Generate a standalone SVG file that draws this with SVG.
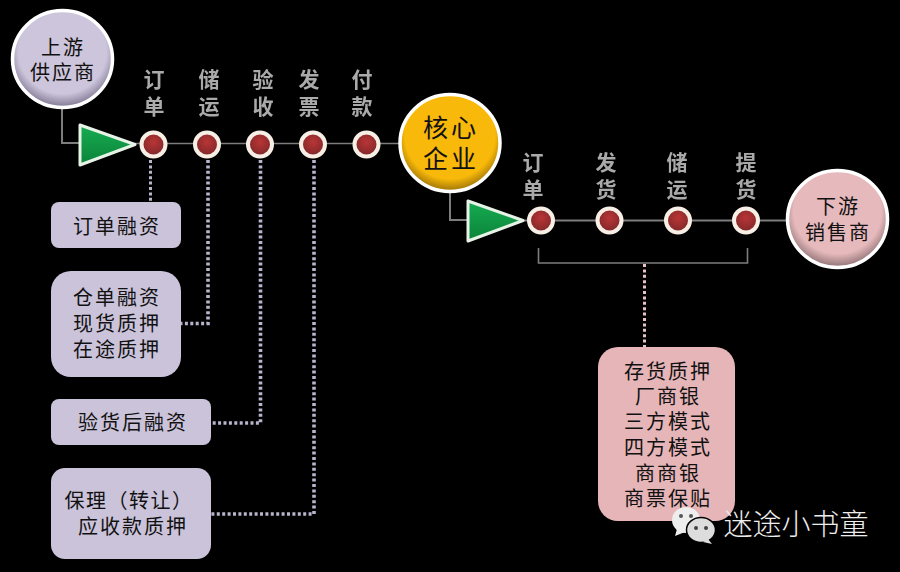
<svg xmlns="http://www.w3.org/2000/svg" width="900" height="572" viewBox="0 0 900 572">
<style>
text{font-family:"Noto Sans CJK SC","Noto Sans",sans-serif;text-anchor:middle}
.t{font-size:20px;letter-spacing:2px;fill:#111}
.c{font-size:25px;letter-spacing:3px}
.l{font-size:21px;font-weight:700;fill:#aaa;filter:url(#soft)}
.line{fill:none;stroke:#7d7d7d;stroke-width:1.6}
.thick{stroke-width:2}
.dot{fill:none;stroke:#b9b3cc;stroke-width:3.600;stroke-dasharray:3 2.400}
.big{stroke:#fff;stroke-width:3.500}
.tri{fill:url(#g);stroke:#e6f3e6;stroke-width:3;stroke-linejoin:round}
.n{fill:url(#r);stroke:#f7efe6;stroke-width:4}
.lil{fill:#cbc3da}
</style>
<defs>
<filter id="soft" x="-10%" y="-10%" width="120%" height="120%"><feGaussianBlur stdDeviation="0.4"/></filter>
<radialGradient id="p" cx="50%" cy="42%" r="55%"><stop offset="80%" stop-color="#cdc5db"/><stop offset="100%" stop-color="#8f87a0"/></radialGradient>
<radialGradient id="y" cx="50%" cy="42%" r="55%"><stop offset="82%" stop-color="#f8b90a"/><stop offset="100%" stop-color="#b08208"/></radialGradient>
<radialGradient id="k" cx="50%" cy="42%" r="55%"><stop offset="80%" stop-color="#e6b9bc"/><stop offset="100%" stop-color="#a08083"/></radialGradient>
<radialGradient id="r" cx="50%" cy="40%" r="55%"><stop offset="0%" stop-color="#b93536"/><stop offset="100%" stop-color="#82282a"/></radialGradient>
<linearGradient id="g" x1="0" y1="0" x2="0" y2="1"><stop offset="0%" stop-color="#16ac52"/><stop offset="100%" stop-color="#0b8339"/></linearGradient>
</defs>
<rect width="900" height="572" fill="#000"/>
<g id="connectors">
<path class="line thick" d="M62 108V143H80"/>
<path class="line" d="M135 143.500H400"/>
<path class="line thick" d="M450 192V220H468"/>
<path class="line thick" d="M524 220.500H790"/>
<path class="line" d="M538.500 248V263H747.500V248"/>
<path class="dot" style="stroke-width:3" d="M150.500 160V202"/>
<path class="dot" d="M208 160V323.500H181"/>
<path class="dot" d="M260.500 160V423H211"/>
<path class="dot" d="M314 160V514H211"/>
<path class="dot" style="stroke:#e6c4c6;stroke-width:3" d="M644.500 264V347"/>
</g>
<g id="supplier"><ellipse class="big" cx="62.500" cy="59" rx="50" ry="48.500" fill="url(#p)"/><text class="t"><tspan x="63" y="55">上游</tspan><tspan x="63" y="80">供应商</tspan></text></g>
<g id="core"><ellipse class="big" cx="450" cy="143" rx="50" ry="48.500" fill="url(#y)"/><text class="t c"><tspan x="451" y="137">核心</tspan><tspan x="451" y="168">企业</tspan></text></g>
<g id="distributor"><ellipse class="big" cx="837.500" cy="219" rx="50" ry="48.500" fill="url(#k)"/><text class="t"><tspan x="838" y="214">下游</tspan><tspan x="838" y="240">销售商</tspan></text></g>
<g id="arrow1"><polygon class="tri" points="80,125 80,165 135,144.500"/></g>
<g id="arrow2"><polygon class="tri" points="468,201 468,241 523,220.500"/></g>
<g id="upstream-steps">
<circle class="n" cx="153.500" cy="144.500" r="12"/><circle class="n" cx="207" cy="144.500" r="12"/><circle class="n" cx="260" cy="144.500" r="12"/><circle class="n" cx="313" cy="144.500" r="12"/><circle class="n" cx="366.500" cy="144.500" r="12"/>
<text class="l"><tspan x="154" y="87">订</tspan><tspan x="154" y="114">单</tspan></text>
<text class="l"><tspan x="209" y="87">储</tspan><tspan x="209" y="114">运</tspan></text>
<text class="l"><tspan x="263" y="87">验</tspan><tspan x="263" y="114">收</tspan></text>
<text class="l"><tspan x="309" y="87">发</tspan><tspan x="309" y="114">票</tspan></text>
<text class="l"><tspan x="362" y="87">付</tspan><tspan x="362" y="114">款</tspan></text>
</g>
<g id="downstream-steps">
<circle class="n" cx="541" cy="220.500" r="12"/><circle class="n" cx="609.500" cy="220.500" r="12"/><circle class="n" cx="678" cy="220.500" r="12"/><circle class="n" cx="746" cy="220.500" r="12"/>
<text class="l"><tspan x="533" y="170">订</tspan><tspan x="533" y="197">单</tspan></text>
<text class="l"><tspan x="606" y="170">发</tspan><tspan x="606" y="197">货</tspan></text>
<text class="l"><tspan x="677" y="170">储</tspan><tspan x="677" y="197">运</tspan></text>
<text class="l"><tspan x="746" y="170">提</tspan><tspan x="746" y="197">货</tspan></text>
</g>
<g id="box-order"><rect class="lil" x="51" y="202" width="130" height="46" rx="8"/><text class="t" x="117" y="234">订单融资</text></g>
<g id="box-warehouse"><rect class="lil" x="51" y="271" width="130" height="106" rx="20"/><text class="t"><tspan x="117" y="305">仓单融资</tspan><tspan x="117" y="331">现货质押</tspan><tspan x="117" y="357">在途质押</tspan></text></g>
<g id="box-inspect"><rect class="lil" x="51" y="399" width="160" height="46" rx="8"/><text class="t" x="133" y="430">验货后融资</text></g>
<g id="box-factoring"><rect class="lil" x="51" y="468" width="160" height="91" rx="14"/><text class="t"><tspan x="129" y="508" letter-spacing="1.500">保理（转让）</tspan><tspan x="133" y="534">应收款质押</tspan></text></g>
<g id="box-inventory"><rect x="598" y="347" width="137" height="174" rx="20" fill="#e6b5b8"/>
<text class="t"><tspan x="668" y="379">存货质押</tspan><tspan x="668" y="404">厂商银</tspan><tspan x="668" y="429">三方模式</tspan><tspan x="668" y="455">四方模式</tspan><tspan x="668" y="481">商商银</tspan><tspan x="668" y="506">商票保贴</tspan></text></g>
<g id="watermark">
<ellipse cx="686" cy="520" rx="14" ry="13" fill="#eee"/><path d="M677 529L675 536L685 532Z" fill="#eee"/>
<ellipse cx="701" cy="530" rx="14.500" ry="12.500" fill="#ddd" stroke="#000" stroke-width="1.500"/><path d="M708 539L712 544L703 542Z" fill="#ddd"/>
<circle cx="681" cy="516" r="2" fill="#555"/><circle cx="691" cy="516" r="2" fill="#555"/><circle cx="696" cy="528" r="2" fill="#444"/><circle cx="706" cy="528" r="2" fill="#444"/>
<text x="796" y="535" style="font-size:29px;fill:#ededed;font-weight:300">迷途小书童</text>
</g>
</svg>
